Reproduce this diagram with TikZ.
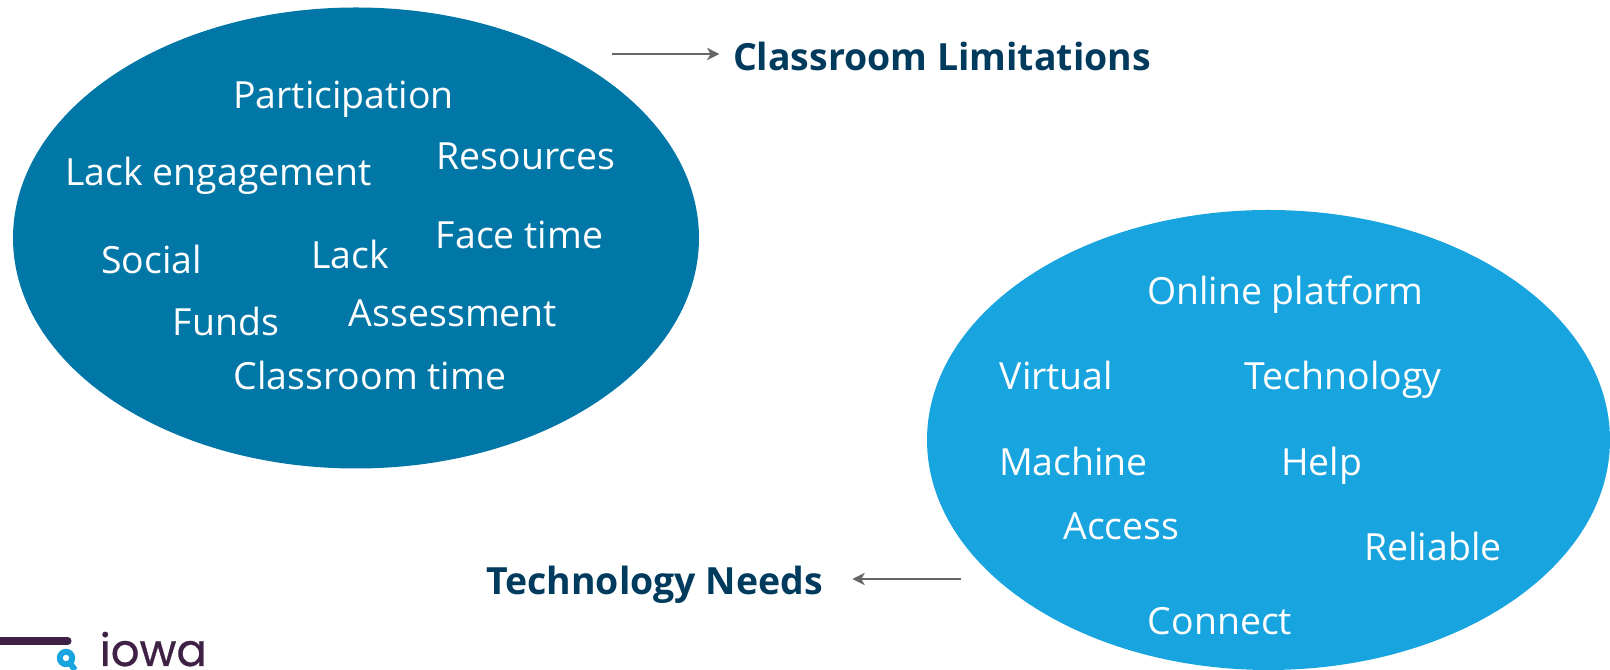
\documentclass[tikz,border=0pt]{standalone}
\usepackage{xcolor}
\usepackage{fontspec}
\setmainfont{Open Sans}
\newfontfamily\logofont[FakeBold=0.6]{Poppins}
\usetikzlibrary{arrows.meta, positioning}
\definecolor{iowadeep}{RGB}{0, 119, 166}
\definecolor{iowasky}{RGB}{24, 164, 223}
\definecolor{iowanavy}{RGB}{0, 58, 93}
\definecolor{iowaplum}{RGB}{63, 33, 69}
\definecolor{arrowgray}{RGB}{102, 102, 102}
\tikzset{
  word/.style={text=white, font=\fontsize{10.65}{13}\selectfont, inner sep=0pt},
  heading/.style={text=iowanavy, font=\fontsize{10.65}{13}\selectfont\bfseries, inner ysep=0pt},
  flow/.style={arrowgray, line width=0.55pt, -{Stealth[length=3.5pt,width=3.5pt,inset=1pt]}}
}
\begin{document}
\begin{tikzpicture}
\useasboundingbox (0,0) rectangle (16.1,6.7);
% Classroom limitations
\fill[iowadeep] (3.56,4.32) ellipse (3.43 and 2.305);
\node[word] (participation) at (3.435,5.705) {Participation};
\node[word] (engagement) at (2.185,4.945) {Lack engagement};
\node[word] (resources) at (5.26,5.14) {Resources};
\node[word] (facetime) at (5.195,4.35) {Face time};
\node[word] (lack) at (3.50,4.154) {Lack};
\node[word] (social) at (1.515,4.11) {Social};
\node[word] (funds) at (2.26,3.49) {Funds};
\node[word] (assessment) at (4.53,3.57) {Assessment};
\node[word] (classtime) at (3.70,2.95) {Classroom time};

% Technology needs
\fill[iowasky] (12.685,2.30) ellipse (3.415 and 2.30);
\node[word] (online) at (12.855,3.754) {Online platform};
\node[word] (virtual) at (10.565,2.95) {Virtual};
\node[word] (technology) at (13.43,2.90) {Technology};
\node[word] (machine) at (10.735,2.09) {Machine};
\node[word] (help) at (13.215,2.04) {Help};
\node[word] (access) at (11.215,1.44) {Access};
\node[word] (reliable) at (14.33,1.24) {Reliable};
\node[word] (connect) at (12.20,0.49) {Connect};

% Labels and arrows
\node[heading, inner xsep=0.13cm] (limits) at (9.42,6.14) {Classroom Limitations};
\node[heading, inner xsep=0.29cm] (needs) at (6.545,0.85) {Technology Needs};
\coordinate (limitstail) at (6.12,6.16);
\coordinate (needstail) at (9.61,0.91);
\draw[flow] (limitstail) -- (limitstail -| limits.west);
\draw[flow] (needstail) -- (needstail -| needs.east);

% Logo
\coordinate (barleft) at (0,0.29);
\coordinate (barright) at (0.68,0.29);
\draw[iowaplum, line width=2pt, line cap=round] (barleft) -- (barright);
\draw[iowasky, line width=1.7pt] (0.66,0.12) circle (0.062);
\draw[iowasky, line width=1.7pt] (0.70,0.07) -- (0.75,0);
\node[text=iowaplum, font=\logofont\fontsize{12.8}{14}\selectfont, anchor=base west, inner sep=0pt] (logo) at (0.99,0.04) {iowa};
\end{tikzpicture}
\end{document}
